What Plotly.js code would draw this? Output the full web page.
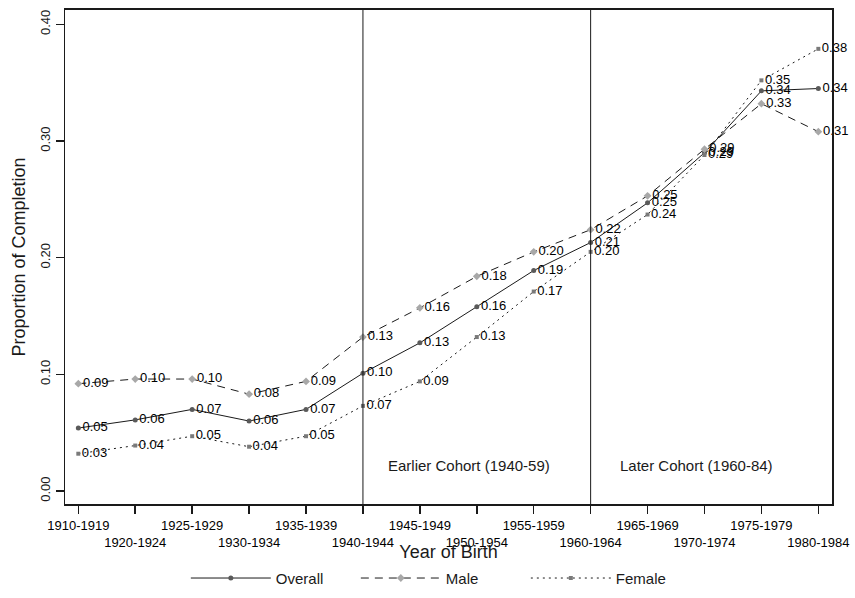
<!DOCTYPE html>
<html>
<head>
<meta charset="utf-8">
<script src="https://cdn.plot.ly/plotly-3.0.1.min.js"></script>
<style>html,body{margin:0;padding:0;background:#fff;}#chart{width:855px;height:598px;}</style>
</head>
<body>
<div id="chart"></div>
<script>
const categories = ['1910-1919','1920-1924','1925-1929','1930-1934','1935-1939','1940-1944','1945-1949','1950-1954','1955-1959','1960-1964','1965-1969','1970-1974','1975-1979','1980-1984'];
const overall = [0.054,0.061,0.070,0.060,0.070,0.101,0.127,0.158,0.189,0.213,0.247,0.290,0.343,0.345];
const male    = [0.092,0.096,0.096,0.083,0.094,0.132,0.157,0.184,0.205,0.224,0.253,0.293,0.332,0.308];
const female  = [0.032,0.039,0.047,0.038,0.047,0.073,0.094,0.132,0.171,0.205,0.237,0.288,0.352,0.379];
const cohortStarts = ['1940-1944','1960-1964'];
const cohortLabels = ['Earlier Cohort (1940-59)','Later Cohort (1960-84)'];
const yTicks = [0,0.1,0.2,0.3,0.4];

const idx = categories.map((c,i)=>i);
const lbl = arr => arr.map(v=>v.toFixed(2));
const txtFont = {family:'Liberation Sans, Arial, sans-serif', size:13, color:'#000'};

function series(name, vals, dash, mcolor, msym, msize){
  return {
    type:'scatter', mode:'lines+markers+text', name:name,
    x:idx, y:vals, text:lbl(vals), textposition:'middle right', textfont:txtFont,
    line:{color:'#1a1a1a', width:1, dash:dash},
    marker:{color:mcolor, symbol:msym, size:msize},
    cliponaxis:false, hoverinfo:'skip'
  };
}

const traces = [
  series('Overall', overall, 'solid', '#5a5a5a', 'circle', 5),
  series('Male', male, '8px,6px', '#a8a8a8', 'diamond', 6),
  series('Female', female, '2px,4px', '#7a7a7a', 'square', 4)
];

const shapes = cohortStarts.map(c=>({
  type:'line', xref:'x', yref:'paper', x0:categories.indexOf(c), x1:categories.indexOf(c), y0:0, y1:1,
  line:{color:'#1a1a1a', width:1}
}));

const annotations = cohortStarts.map((c,i)=>({
  xref:'x', yref:'y', x:categories.indexOf(c)+1.86, y:0.022, text:cohortLabels[i], showarrow:false,
  font:{family:'Liberation Sans, Arial, sans-serif', size:15, color:'#1a1a1a'}, xanchor:'center'
}));

const tickText = categories.map((c,i)=> i%2===0 ? c : '<br>'+c);

const layout = {
  width:855, height:598,
  margin:{l:65, r:23, t:10, b:94, autoexpand:false},
  paper_bgcolor:'#fff', plot_bgcolor:'#fff',
  font:{family:'Liberation Sans, Arial, sans-serif', color:'#1a1a1a'},
  showlegend:true,
  legend:{orientation:'h', x:0.49, xanchor:'center', yref:'container', y:0.033, yanchor:'middle',
          itemwidth:80, entrywidth:75, entrywidthmode:'pixels',
          font:{size:15, color:'#1a1a1a'}, tracegroupgap:0, itemclick:false},
  xaxis:{
    range:[-0.234,13.24], tickmode:'array', tickvals:idx, ticktext:tickText, tickangle:0,
    tickfont:{size:13, color:'#000'}, ticks:'outside', ticklen:8, tickwidth:1.5, tickcolor:'#1a1a1a',
    showline:true, linecolor:'#1a1a1a', linewidth:2, mirror:true, showgrid:false, zeroline:false,
    automargin:false,
    title:{text:'Year of Birth', font:{size:18, color:'#1a1a1a'}, standoff:4}
  },
  yaxis:{
    range:[-0.0111,0.4123], tickmode:'array', tickvals:yTicks, ticktext:yTicks.map(v=>v.toFixed(2)),
    tickangle:-90, tickfont:{size:13, color:'#1a1a1a'}, ticks:'outside', ticklen:8, tickwidth:1.5, tickcolor:'#1a1a1a',
    showline:true, linecolor:'#1a1a1a', linewidth:1.5, mirror:true, showgrid:false, zeroline:false,
    automargin:false,
    title:{text:'Proportion of Completion', font:{size:18, color:'#1a1a1a'}, standoff:8}
  },
  shapes:shapes, annotations:annotations
};

Plotly.newPlot('chart', traces, layout, {staticPlot:true});
</script>
</body>
</html>
